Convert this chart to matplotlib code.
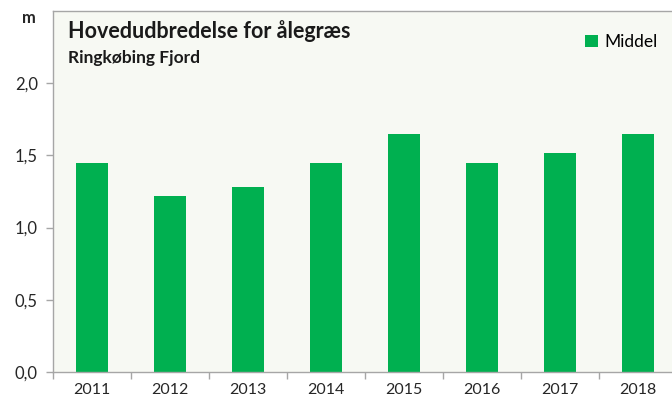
import numpy as np
import matplotlib.pyplot as plt
from matplotlib.ticker import FixedLocator, FuncFormatter

# Data
years = ['2011', '2012', '2013', '2014', '2015', '2016', '2017', '2018']
middel = [1.45, 1.22, 1.28, 1.45, 1.65, 1.45, 1.52, 1.65]

plt.rcParams['font.family'] = ['Lato', 'DejaVu Sans']

green = '#00B050'
grey = '#A6A6A6'

fig = plt.figure(figsize=(6.72, 4.03), dpi=100)
ax = fig.add_axes([53 / 672, 1 - 372 / 403, 624 / 672, 361 / 403])
ax.set_facecolor('#F7F9F3')

x = np.arange(len(years))
ax.bar(x, middel, width=0.4, color=green, label='Middel', zorder=2)

ax.set_xlim(-0.5, len(years) - 0.5)
ax.set_ylim(0, 2.5)

# y axis
ax.set_yticks([0, 0.5, 1.0, 1.5, 2.0])
ax.yaxis.set_major_formatter(FuncFormatter(lambda v, p: f'{v:.1f}'.replace('.', ',')))

# x axis: labels at centres, tick marks at category boundaries
ax.set_xticks(x)
ax.set_xticklabels(years)
ax.xaxis.set_minor_locator(FixedLocator(np.arange(-0.5, len(years), 1.0)))
ax.tick_params(axis='x', which='major', length=0, pad=8, labelsize=11.5)
ax.tick_params(axis='x', which='minor', length=5, color=grey, width=1)
ax.tick_params(axis='y', length=5, color=grey, width=1, pad=6, labelsize=12)
ax.tick_params(labelcolor='#262626')

for side in ['left', 'bottom', 'top']:
    ax.spines[side].set_color(grey)
    ax.spines[side].set_linewidth(1)
ax.spines['right'].set_visible(False)

# unit label
fig.text(22 / 672, 1 - 18 / 403, 'm', fontsize=12, fontweight='bold',
         ha='left', va='center', color='#262626')

# title inside plot area
fig.text(68 / 672, 1 - 31 / 403, 'Hovedudbredelse for ålegræs', fontsize=15.5,
         fontweight='bold', ha='left', va='center', color='#1a1a1a')
fig.text(68 / 672, 1 - 58 / 403, 'Ringkøbing Fjord', fontsize=12.5,
         fontweight='bold', ha='left', va='center', color='#1a1a1a')

fig.legend(*ax.get_legend_handles_labels(), loc='center right',
           bbox_to_anchor=(658 / 672, 1 - 42 / 403),
           frameon=False, fontsize=12.5, handlelength=0.75, handleheight=0.75,
           handletextpad=0.4, borderaxespad=0, borderpad=0)

fig.savefig('out.png', dpi=100)
